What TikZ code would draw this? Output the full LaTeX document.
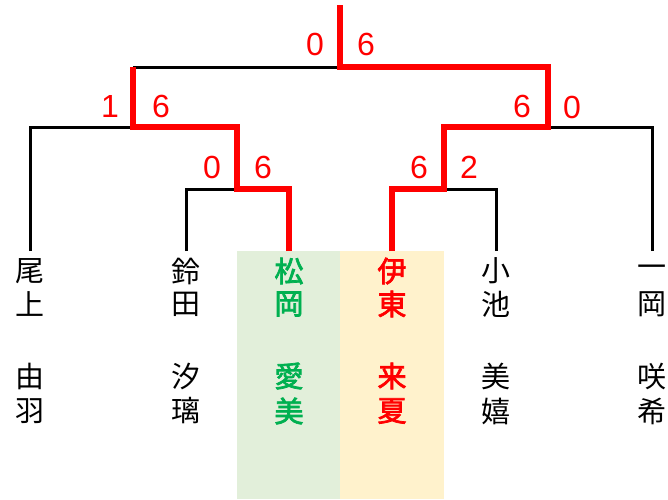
\documentclass[tikz,border=0pt]{standalone}
\usepackage{fontspec}
\setmainfont{Liberation Sans}
\newfontfamily\jp[AutoFakeBold=2.5]{Noto Sans CJK JP}
\definecolor{winred}{RGB}{255,0,0}
\definecolor{wingreen}{RGB}{0,176,80}
\definecolor{bggreen}{RGB}{226,239,218}
\definecolor{bgyellow}{RGB}{255,242,204}
\tikzset{
  blackline/.style={draw=black,line width=3pt,line join=miter},
  redline/.style={draw=winred,line width=6.7pt,line join=miter},
  score/.style={text=winred,font=\fontsize{32}{32}\selectfont,inner sep=0pt},
  namechar/.style={inner sep=0pt},
}
\begin{document}
\begin{tikzpicture}[x=1pt,y=-1pt]
\useasboundingbox (0,0) rectangle (668,499);
\fill[bggreen] (237,251) rectangle (340,499);
\fill[bgyellow] (340,251) rectangle (444,499);
% leaf coordinates
\coordinate (p1) at (30,251);
\coordinate (p2) at (186,251);
\coordinate (p3) at (289,251);
\coordinate (p4) at (392,251);
\coordinate (p5) at (496,251);
\coordinate (p6) at (652,251);
\coordinate (top) at (340,5);
% black lines
\draw[blackline] (p1) |- (133,127);
\draw[blackline] (p2) |- (237,189);
\draw[blackline] (133,67) -- (340,67);
\draw[blackline] (p6) |- (548,127);
\draw[blackline] (p5) |- (444,189);
% red lines
\draw[redline] (p3) -- (289,189) -- (237,189) -- (237,127) -- (133,127) -- (133,67);
\draw[redline] (p4) -- (392,189) -- (444,189) -- (444,127) -- (548,127) -- (548,67) -- (340,67) -- (top);
% scores
\node[score] (s1) at (315,44) {0};
\node[score] (s2) at (366,44) {6};
\node[score] (s3) at (110,106) {1};
\node[score] (s4) at (161,106) {6};
\node[score] (s5) at (522,106) {6};
\node[score] (s6) at (572,107) {0};
\node[score] (s7) at (212,167) {0};
\node[score] (s8) at (263,167) {6};
\node[score] (s9) at (419,167) {6};
\node[score] (s10) at (469,167) {2};
% names
\foreach \i/\x/\a/\b/\c/\d/\col/\bf in {
  1/30/尾/上/由/羽/black/,
  2/186/鈴/田/汐/璃/black/,
  3/289/松/岡/愛/美/wingreen/\bfseries,
  4/392/伊/東/来/夏/winred/\bfseries,
  5/496/小/池/美/嬉/black/,
  6/652/一/岡/咲/希/black/}{
  \node[namechar,text=\col,font=\jp\fontsize{29}{29}\selectfont\bf] (n\i a) at (\x,271) {\a};
  \node[namechar,text=\col,font=\jp\fontsize{29}{29}\selectfont\bf] (n\i b) at (\x,304) {\b};
  \node[namechar,text=\col,font=\jp\fontsize{29}{29}\selectfont\bf] (n\i c) at (\x,376) {\c};
  \node[namechar,text=\col,font=\jp\fontsize{29}{29}\selectfont\bf] (n\i d) at (\x,411) {\d};
}
\end{tikzpicture}
\end{document}
